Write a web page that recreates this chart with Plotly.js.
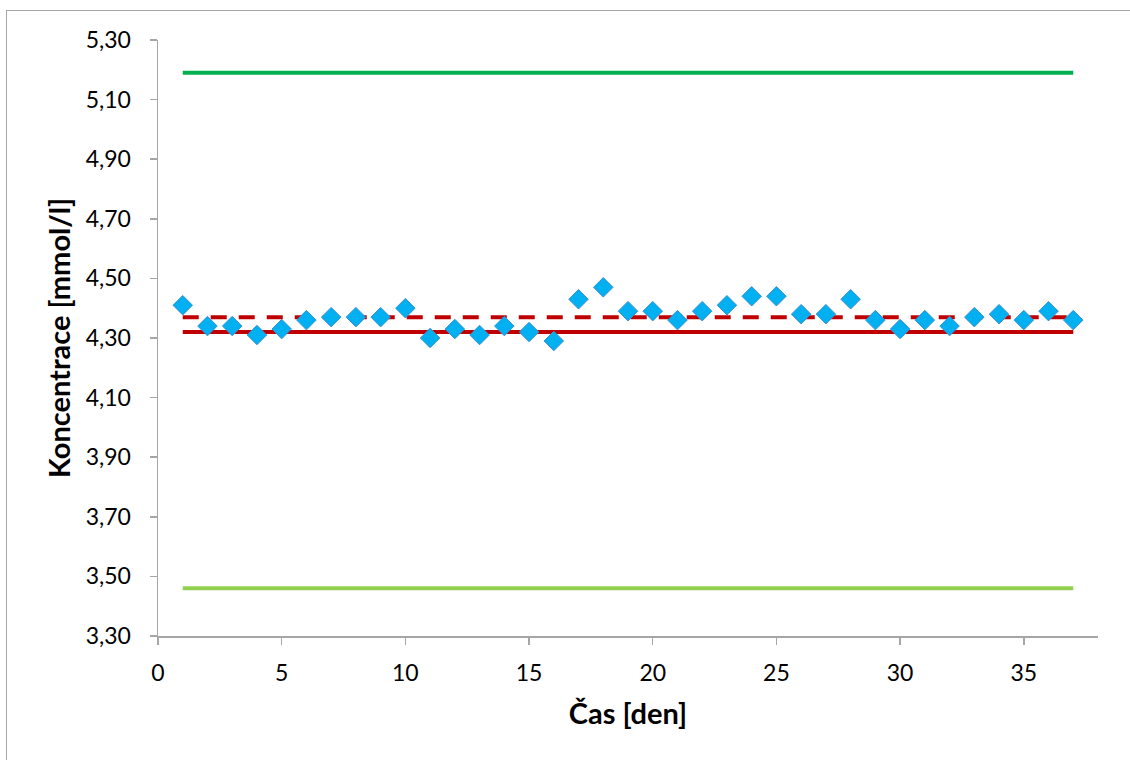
<!DOCTYPE html>
<html>
<head>
<meta charset="utf-8">
<script src="https://cdn.plot.ly/plotly-3.0.1.min.js"></script>
<style>
html,body{margin:0;padding:0;background:#fff;width:1130px;height:760px;overflow:hidden;}
#frame{position:absolute;left:6px;top:10px;width:1200px;height:800px;border-top:1px solid #a6a6a6;border-left:1px solid #a6a6a6;}
#chart{position:absolute;left:0;top:0;width:1130px;height:760px;}
</style>
</head>
<body>
<div id="frame"></div>
<div id="chart"></div>
<script>
const days = [1,2,3,4,5,6,7,8,9,10,11,12,13,14,15,16,17,18,19,20,21,22,23,24,25,26,27,28,29,30,31,32,33,34,35,36,37];
const values = [4.41,4.34,4.34,4.31,4.33,4.36,4.37,4.37,4.37,4.40,4.30,4.33,4.31,4.34,4.32,4.29,4.43,4.47,4.39,4.39,4.36,4.39,4.41,4.44,4.44,4.38,4.38,4.43,4.36,4.33,4.36,4.34,4.37,4.38,4.36,4.39,4.36];
const lineX = [1, 37];
const upperLimit = [5.19, 5.19];
const lowerLimit = [3.46, 3.46];
const targetValue = [4.32, 4.32];
const meanValue = [4.37, 4.37];
const yTicks = [3.30,3.50,3.70,3.90,4.10,4.30,4.50,4.70,4.90,5.10,5.30];
const xTicks = [0,5,10,15,20,25,30,35];

const traces = [
  {x: lineX, y: upperLimit, mode:'lines', line:{color:'#00b050', width:4}, hoverinfo:'none'},
  {x: lineX, y: lowerLimit, mode:'lines', line:{color:'#92d050', width:4}, hoverinfo:'none'},
  {x: lineX, y: targetValue, mode:'lines', line:{color:'#c00000', width:4}, hoverinfo:'none'},
  {x: lineX, y: meanValue, mode:'lines', line:{color:'#c00000', width:4, dash:'16px,12px'}, hoverinfo:'none'},
  {x: days, y: values, mode:'markers', marker:{symbol:'diamond', size:15, color:'#00b0f0', line:{color:'#3a8fd0', width:1}}}
];

const fam = 'Lato, "Noto Sans", sans-serif';
const tickFont = {family:fam, size:23, color:'#000'};
const layout = {
  width:1130, height:760,
  margin:{l:158, r:32, t:40, b:124},
  paper_bgcolor:'rgba(0,0,0,0)', plot_bgcolor:'rgba(0,0,0,0)',
  showlegend:false,
  xaxis:{
    range:[0,38], tickvals:xTicks, ticktext:xTicks.map(String),
    showgrid:false, zeroline:false, showline:true, linecolor:'#a6a6a6', linewidth:1.5,
    ticks:'outside', ticklen:7, tickcolor:'#a6a6a6', tickwidth:1.5,
    ticklabelstandoff:9,
    tickfont:tickFont,
    title:{text:'Čas [den]', font:{family:fam, size:29, color:'#000', weight:'bold'}, standoff:18}
  },
  yaxis:{
    range:[3.30,5.30], tickvals:yTicks, ticktext:yTicks.map(v=>v.toFixed(2).replace('.',',')),
    showgrid:false, zeroline:false, showline:true, linecolor:'#a6a6a6', linewidth:1.5,
    ticks:'outside', ticklen:7, tickcolor:'#a6a6a6', tickwidth:1.5,
    ticklabelstandoff:14,
    tickfont:tickFont,
    title:{text:'Koncentrace [mmol/l]', font:{family:fam, size:29, color:'#000', weight:'bold'}, standoff:6}
  }
};
Plotly.newPlot('chart', traces, layout, {displayModeBar:false, staticPlot:true});
</script>
</body>
</html>
